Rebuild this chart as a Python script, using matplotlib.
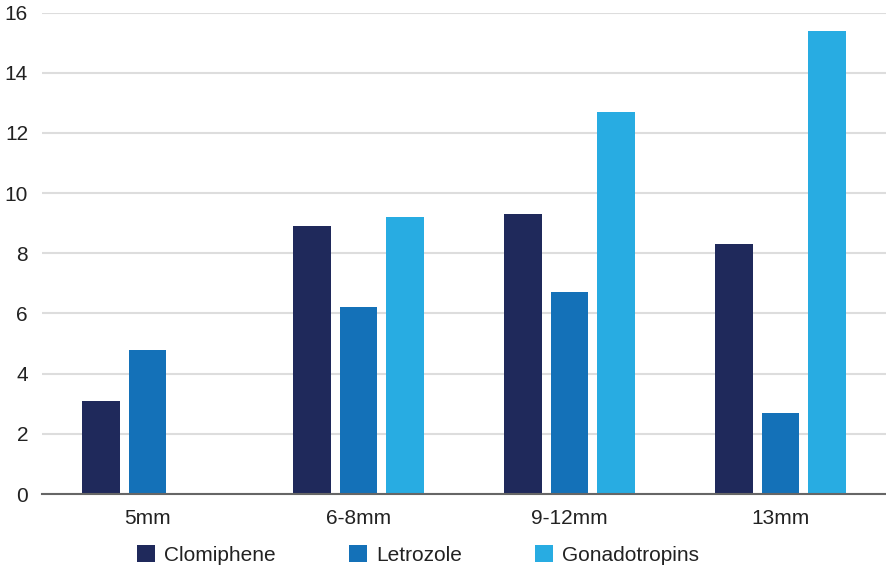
import matplotlib.pyplot as plt
import numpy as np

# follicle size groups and counts per drug
sizes = ["5mm", "6-8mm", "9-12mm", "13mm"]
clomiphene = [3.1, 8.9, 9.3, 8.3]
letrozole = [4.8, 6.2, 6.7, 2.7]
gonadotropins = [0, 9.2, 12.7, 15.4]

series_names = ["Clomiphene", "Letrozole", "Gonadotropins"]
my_colors = ["#1f295b", "#1471b8", "#28ace2"]

plt.rcParams['font.family'] = ['Liberation Sans', 'DejaVu Sans']

fig = plt.figure(figsize=(8.86, 5.71), dpi=100)
ax = fig.add_axes([42 / 886, 77 / 571, 844 / 886, 481.5 / 571])

x = np.arange(len(sizes))
step = 0.22
width = 0.178
for i, (name, values) in enumerate(zip(series_names, [clomiphene, letrozole, gonadotropins])):
    ax.bar(x + (i - 1) * step, values, width=width, color=my_colors[i], label=name, zorder=3)

ax.set_xlim(-0.5, 3.5)
ax.set_ylim(0, 16)
ax.set_yticks(range(0, 17, 2))
ax.set_xticks(x)
ax.set_xticklabels(sizes)

ax.yaxis.grid(True, color="#dddddd", linewidth=1.5, zorder=0)
ax.xaxis.grid(False)
for side in ["top", "right", "left"]:
    ax.spines[side].set_visible(False)
ax.spines["bottom"].set_color("#666666")
ax.spines["bottom"].set_linewidth(1.5)
ax.spines["bottom"].set_zorder(4)

ax.tick_params(axis="both", length=0, labelsize=15, labelcolor="#222222")
ax.tick_params(axis="y", pad=10)
ax.tick_params(axis="x", pad=11)

fig.legend(
    loc="center", bbox_to_anchor=(0.472, 0.028), ncol=3, frameon=False,
    fontsize=15, handlelength=0.85, handleheight=0.85, handletextpad=0.45,
    columnspacing=3.5, labelcolor="#222222"
)

fig.savefig("out.png", dpi=100)
